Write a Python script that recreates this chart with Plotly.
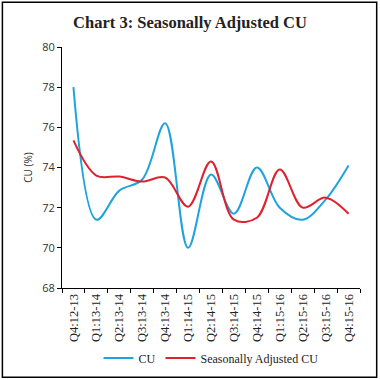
import plotly.graph_objects as go

quarters = ["Q4:12-13", "Q1:13-14", "Q2:13-14", "Q3:13-14", "Q4:13-14", "Q1:14-15",
            "Q2:14-15", "Q3:14-15", "Q4:14-15", "Q1:15-16", "Q2:15-16", "Q3:15-16", "Q4:15-16"]
cu = [78.0, 71.4, 72.85, 73.4, 76.2, 70.0, 73.65, 71.7, 74.0, 72.0, 71.4, 72.4, 74.1]
sa_cu = [75.35, 73.6, 73.55, 73.3, 73.5, 72.05, 74.3, 71.4, 71.5, 73.9, 72.0, 72.5, 71.7]

fig = go.Figure()
fig.add_trace(go.Scatter(x=quarters, y=cu, name="CU", mode="lines",
                         line=dict(color="#1fa3dc", width=2, shape="spline", smoothing=1)))
fig.add_trace(go.Scatter(x=quarters, y=sa_cu, name="Seasonally Adjusted CU", mode="lines",
                         line=dict(color="#e0202e", width=2, shape="spline", smoothing=1)))

serif = "Liberation Serif"
fig.update_layout(
    width=380, height=380,
    margin=dict(l=62, r=20, t=47, b=92, autoexpand=False),
    paper_bgcolor="white", plot_bgcolor="white",
    title=dict(text="<b>Chart 3: Seasonally Adjusted CU</b>", x=0.5, xanchor="center",
               y=1 - 22 / 380, yanchor="middle",
               font=dict(family=serif, size=16.5, color="#222")),
    showlegend=True,
    legend=dict(orientation="h", x=0.5, xanchor="center", y=-0.29, yanchor="middle",
                font=dict(family=serif, size=12, color="#222"),
                tracegroupgap=0),
    xaxis=dict(showgrid=False, showline=True, linecolor="black", linewidth=1,
               ticks="outside", ticklen=4, tickcolor="black", tickson="boundaries",
               tickangle=-90, tickfont=dict(family=serif, size=12.5, color="#222"),
               automargin=False,
               range=[-0.5, len(quarters) - 0.5]),
    yaxis=dict(range=[68, 80], dtick=2, showgrid=False, zeroline=False, showline=True,
               linecolor="black", linewidth=1, ticks="outside", ticklen=4, tickcolor="black",
               tickfont=dict(family="Open Sans", size=11, color="#333"),
               automargin=False,
               title=dict(text="CU (%)", font=dict(family="Open Sans", size=10, color="#333"),
                          standoff=7)),
)
fig.add_shape(type="rect", xref="paper", yref="paper",
              x0=-0.2, x1=1.056, y0=-0.37, y1=1.186,
              line=dict(color="black", width=1.5), fillcolor="rgba(0,0,0,0)")

fig.write_html("out.html", config={"displayModeBar": False},
               post_script="document.body.style.margin='0px';")
